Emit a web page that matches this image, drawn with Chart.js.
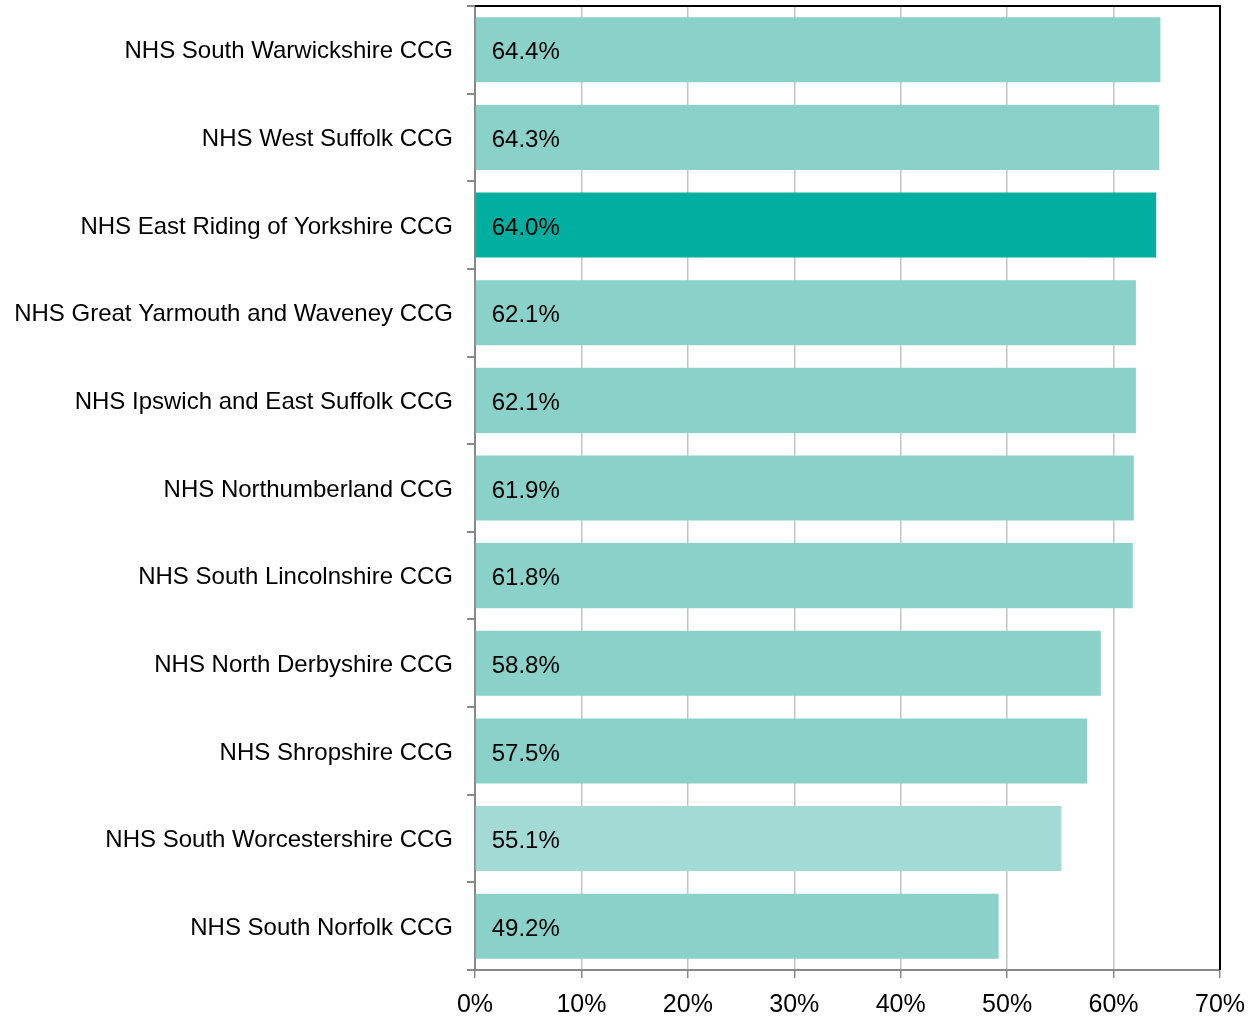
<!DOCTYPE html>
<html>
<head>
<meta charset="utf-8">
<script src="https://cdn.jsdelivr.net/npm/chart.js@4/dist/chart.umd.min.js"></script>
<style>
  html, body { margin: 0; padding: 0; background: #fff; }
  #wrap { width: 1250px; height: 1016px; }
</style>
</head>
<body>
<div id="wrap"><canvas id="ccgBar"></canvas></div>
<script>
const ccgNames = [
    "NHS South Warwickshire CCG",
    "NHS West Suffolk CCG",
    "NHS East Riding of Yorkshire CCG",
    "NHS Great Yarmouth and Waveney CCG",
    "NHS Ipswich and East Suffolk CCG",
    "NHS Northumberland CCG",
    "NHS South Lincolnshire CCG",
    "NHS North Derbyshire CCG",
    "NHS Shropshire CCG",
    "NHS South Worcestershire CCG",
    "NHS South Norfolk CCG"
];
const ccgValues = [64.4, 64.3, 64.0, 62.1, 62.1, 61.9, 61.8, 58.8, 57.5, 55.1, 49.2];
const xTicks = [0, 10, 20, 30, 40, 50, 60, 70];

const highlightName = "NHS East Riding of Yorkshire CCG";
const lightName = "NHS South Worcestershire CCG";

const barColors = ccgNames.map(n =>
    n === highlightName ? "#00afa0"
  : n === lightName ? "#a3dad5"
  : "#8ad1c9");

const FONT = "'Liberation Sans', Arial, sans-serif";

// value labels inside the bars
const valueLabels = {
    id: "valueLabels",
    afterDatasetsDraw(chart) {
        const ctx = chart.ctx;
        const meta = chart.getDatasetMeta(0);
        ctx.save();
        ctx.font = "24px " + FONT;
        ctx.fillStyle = "#000";
        ctx.textAlign = "left";
        ctx.textBaseline = "middle";
        meta.data.forEach((bar, i) => {
            ctx.fillText(ccgValues[i].toFixed(1) + "%", bar.base + 16, bar.y + 3);
        });
        ctx.restore();
    }
};

// black frame on top and right of plot area
const plotFrame = {
    id: "plotFrame",
    afterDraw(chart) {
        const a = chart.chartArea;
        const ctx = chart.ctx;
        ctx.save();
        ctx.strokeStyle = "#000";
        ctx.lineWidth = 2;
        ctx.beginPath();
        ctx.moveTo(a.left, a.top);
        ctx.lineTo(a.right, a.top);
        ctx.lineTo(a.right, a.bottom);
        ctx.stroke();
        ctx.restore();
    }
};

new Chart(document.getElementById("ccgBar"), {
    type: "bar",
    data: {
        labels: ccgNames,
        datasets: [{
            data: ccgValues,
            backgroundColor: barColors,
            borderWidth: 0,
            barPercentage: 0.742,
            categoryPercentage: 1
        }]
    },
    options: {
        indexAxis: "y",
        responsive: true,
        maintainAspectRatio: false,
        animation: false,
        layout: { padding: { top: 6, right: 30, left: 0, bottom: 0 } },
        plugins: {
            legend: { display: false },
            tooltip: { enabled: false }
        },
        scales: {
            x: {
                min: 0,
                max: 70,
                afterBuildTicks: scale => {
                    scale.ticks = xTicks.map(v => ({ value: v }));
                },
                ticks: {
                    callback: v => v + "%",
                    color: "#000",
                    font: { family: FONT, size: 25 },
                    padding: 12,
                    maxRotation: 0
                },
                grid: {
                    color: "#c4c4c4",
                    lineWidth: 1.5,
                    tickColor: "#888",
                    tickLength: 8
                },
                border: { color: "#888", width: 2 },
                afterFit: scale => {
                    scale.height = 46;
                    scale.paddingLeft = 0;
                    scale.paddingRight = 0;
                }
            },
            y: {
                ticks: {
                    color: "#000",
                    font: { family: FONT, size: 24 },
                    padding: 14,
                    labelOffset: 2,
                    autoSkip: false
                },
                grid: {
                    offset: true,
                    drawOnChartArea: false,
                    drawTicks: true,
                    tickLength: 8,
                    color: "#888",
                    lineWidth: 2
                },
                border: { color: "#888", width: 2 },
                afterFit: scale => {
                    scale.width = 475;
                    scale.paddingTop = 0;
                    scale.paddingBottom = 0;
                }
            }
        }
    },
    plugins: [valueLabels, plotFrame]
});
</script>
</body>
</html>
